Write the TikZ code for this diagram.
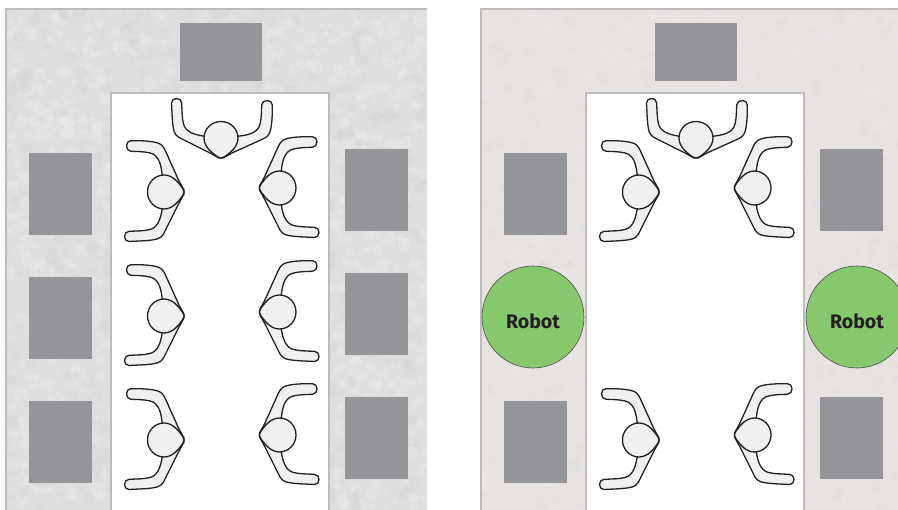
\documentclass[tikz,border=0pt]{standalone}
\usepackage{fontspec}
\setsansfont{Fira Sans}
\definecolor{floorA}{HTML}{DFDDDE}
\definecolor{floorB}{HTML}{E6E3E1}
\definecolor{blotch}{HTML}{EDEBEC}
\definecolor{blotchdark}{HTML}{D3D1D2}
\definecolor{wallgray}{HTML}{BDBDBD}
\definecolor{tablegray}{HTML}{939598}
\definecolor{robotgreen}{HTML}{86C86C}
\definecolor{skin}{HTML}{F0F0F0}
\definecolor{ink}{HTML}{231F20}
\tikzset{
  x=1pt,y=-1pt,
  wall/.style={draw=wallgray,line width=1.4pt},
  tablebox/.style={fill=tablegray},
  robotnode/.style={circle,draw=ink!80,line width=0.6pt,fill=robotgreen,minimum size=102pt,inner sep=0pt,text=ink,font=\sffamily\bfseries\fontsize{19.5}{22}\selectfont},
  worker/.style={draw=ink,line width=1.3pt,fill=skin,line join=round},
  person/.pic={
    \path[worker] (-1.7,-16) .. controls (-2.5,-24) and (-4,-37) .. (-14,-39)
      .. controls (-20,-40.5) and (-27,-40.5) .. (-33,-40.7)
      .. controls (-39,-41) and (-39,-51.5) .. (-33,-51.3)
      .. controls (-24,-51.5) and (-14,-51) .. (-8,-49.5)
      .. controls (-3,-48.5) and (-1,-46) .. (1,-42)
      -- (15,-11) -- (20,-2) -- (20,2) -- (15,11)
      -- (1,39)
      .. controls (-1,44) and (-4,47) .. (-10,47.7)
      .. controls (-18,49) and (-27,49) .. (-35,49.5)
      .. controls (-41,49.5) and (-41,39.5) .. (-35,39.3)
      .. controls (-28,39) and (-20,39) .. (-14,37.5)
      .. controls (-6,35.5) and (-3,26) .. (-1.7,16) -- cycle;
    \path[worker] (19,-3) .. controls (15,-9) and (9,-17) .. (0,-17)
      .. controls (-9,-17) and (-16.5,-9.5) .. (-16.5,0)
      .. controls (-16.5,9.5) and (-9,17) .. (0,17)
      .. controls (9,17) and (15,9) .. (19,3)
      .. controls (20.5,1) and (20.5,-1) .. (19,-3) -- cycle;
  }
}
\pgfmathsetseed{4711}
\newcommand{\mottle}[5]{% x0,x1,count,colour,opacity
  \foreach \k in {1,...,#3}{
    \pgfmathsetmacro{\mx}{#1+rnd*(#2-#1)}
    \pgfmathsetmacro{\my}{9+rnd*501}
    \pgfmathsetmacro{\mr}{2+rnd*5}
    \fill[#4,opacity=#5] (\mx,\my) circle[radius=\mr];
  }
}
\newcommand{\tables}[1]{%
  \begin{scope}[xshift=#1pt]
    \fill[tablebox] (180,23) rectangle (262,81);
    \fill[tablebox] (29,153) rectangle (92,235);
    \fill[tablebox] (29,401) rectangle (92,483);
    \fill[tablebox] (345,149) rectangle (408,231);
    \fill[tablebox] (345,397) rectangle (408,479);
  \end{scope}
}
\begin{document}
\begin{tikzpicture}
\useasboundingbox (0,0) rectangle (898,510);
\clip (0,0) rectangle (898,510);
\fill[white] (0,0) rectangle (898,510);
% left floor
\begin{scope}
  \clip (6,9) rectangle (427,510);
  \fill[floorA] (6,9) rectangle (427,510);
  \mottle{6}{427}{1300}{blotch}{0.30}
  \mottle{6}{427}{900}{blotchdark}{0.22}
\end{scope}
\draw[wall] (6,510) -- (6,9) -- (427,9);
\fill[white] (111,93) rectangle (329,510);
\draw[wall] (111,510) -- (111,93) -- (329,93) -- (329,510);
\tables{0}
\fill[tablebox] (29,277) rectangle (92,359);
\fill[tablebox] (345,273) rectangle (408,355);
\pic at (221,138) [rotate=-90] {person};
\pic at (164,192) {person};
\pic at (164,316) {person};
\pic at (164,440) {person};
\pic at (279.5,188) [xscale=-1] {person};
\pic at (279.5,312) [xscale=-1] {person};
\pic at (279.5,435) [xscale=-1] {person};
% right floor
\begin{scope}
  \clip (481,9) rectangle (902,510);
  \fill[floorB] (481,9) rectangle (902,510);
  \mottle{481}{902}{800}{blotch}{0.22}
  \mottle{481}{902}{400}{blotchdark}{0.10}
\end{scope}
\draw[wall] (481,510) -- (481,9) -- (902,9);
\fill[white] (586,93) rectangle (804,510);
\draw[wall] (586,510) -- (586,93) -- (804,93) -- (804,510);
\tables{475}
\pic at (696,138) [rotate=-90] {person};
\pic at (639,192) {person};
\pic at (639,440) {person};
\pic at (754.5,188) [xscale=-1] {person};
\pic at (754.5,435) [xscale=-1] {person};
\node[robotnode] (robotL) at (533,317) {\raisebox{-12pt}[0pt][0pt]{Robot}};
\node[robotnode] (robotR) at (857,317) {\raisebox{-12pt}[0pt][0pt]{Robot}};
\end{tikzpicture}
\end{document}
